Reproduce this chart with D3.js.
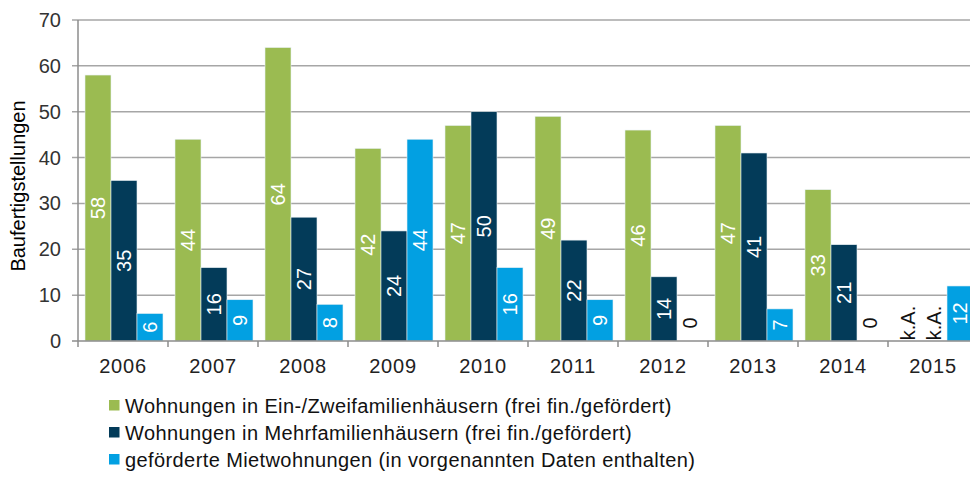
<html>
<head>
<meta charset="utf-8">
<script src="https://d3js.org/d3.v7.min.js"></script>
<style>
body {margin:0; background:#fff;}
text {font-family: "Liberation Sans", Arial, sans-serif;}
</style>
</head>
<body>
<svg id="chart" width="970" height="477"></svg>
<script>
// data
var years = ["2006","2007","2008","2009","2010","2011","2012","2013","2014","2015"];
var ein  = [58, 44, 64, 42, 47, 49, 46, 47, 33, null];
var mehr = [35, 16, 27, 24, 50, 22, 14, 41, 21, null];
var miet = [6, 9, 8, 44, 16, 9, 0, 7, 0, 12];
var yTicks = [0,10,20,30,40,50,60,70];
var seriesNames = [
  "Wohnungen in Ein-/Zweifamilienhäusern (frei fin./gefördert)",
  "Wohnungen in Mehrfamilienhäusern (frei fin./gefördert)",
  "geförderte Mietwohnungen (in vorgenannten Daten enthalten)"
];
var colors = ["#9bbb51", "#033b59", "#02a0e2"];

var series = [ein, mehr, miet];
var rows = [];
years.forEach(function(y, i){
  series.forEach(function(s, k){
    rows.push({year: y, key: k, value: s[i]});
  });
});

var svg = d3.select("#chart");

var x = d3.scaleBand().domain(years).range([78, 978]);
var xs = d3.scaleBand().domain([0,1,2]).range([7, 85]);
var y = d3.scaleLinear().domain([0,70]).range([341, 20]);

// grid lines
svg.append("g").selectAll("line")
  .data(yTicks.slice(1))
  .enter().append("line")
  .attr("x1", 72).attr("x2", 970)
  .attr("y1", d => y(d)).attr("y2", d => y(d))
  .attr("stroke", "#a6a6a6").attr("stroke-width", 1.5);

// y tick labels
svg.append("g").selectAll("text")
  .data(yTicks)
  .enter().append("text")
  .attr("x", 61).attr("y", d => y(d) + 7)
  .attr("text-anchor", "end")
  .attr("font-size", 20)
  .attr("fill", "#333")
  .text(d => d);

// y title
svg.append("text")
  .attr("transform", "translate(25,186) rotate(-90)")
  .attr("text-anchor", "middle")
  .attr("font-size", 20)
  .attr("fill", "#000")
  .text("Baufertigstellungen");

// bars
svg.append("g").selectAll("rect")
  .data(rows.filter(d => d.value))
  .enter().append("rect")
  .attr("x", d => x(d.year) + xs(d.key))
  .attr("width", xs.bandwidth())
  .attr("y", d => y(d.value))
  .attr("height", d => y(0) - y(d.value))
  .attr("fill", d => colors[d.key])
  .attr("stroke", "#e8f0f4").attr("stroke-width", 0.6);

// value labels
svg.append("g").selectAll("text")
  .data(rows)
  .enter().append("text")
  .attr("transform", function(d){
    var cx = x(d.year) + xs(d.key) + xs.bandwidth()/2;
    var cy = d.value ? (y(d.value) + y(0))/2 : 323;
    return "translate(" + (cx + 7) + "," + cy + ") rotate(-90)";
  })
  .attr("text-anchor", "middle")
  .attr("font-size", 20)
  .attr("fill", d => d.value ? "#fff" : "#111")
  .text(d => d.value === null ? "k.A." : d.value);

// axes lines
svg.append("line")
  .attr("x1", 78).attr("x2", 78).attr("y1", 20).attr("y2", 341)
  .attr("stroke", "#8c8c8c").attr("stroke-width", 1.5);
svg.append("line")
  .attr("x1", 72).attr("x2", 970).attr("y1", 341).attr("y2", 341)
  .attr("stroke", "#8c8c8c").attr("stroke-width", 1.5);
svg.append("g").selectAll("line")
  .data(years)
  .enter().append("line")
  .attr("x1", d => x(d)).attr("x2", d => x(d))
  .attr("y1", 341).attr("y2", 347)
  .attr("stroke", "#8c8c8c").attr("stroke-width", 1.5);

// x labels
svg.append("g").selectAll("text")
  .data(years)
  .enter().append("text")
  .attr("x", d => x(d) + x.bandwidth()/2)
  .attr("y", 373)
  .attr("text-anchor", "middle")
  .attr("font-size", 20)
  .attr("letter-spacing", 0.8)
  .attr("fill", "#222")
  .text(d => d);

// legend
var leg = svg.append("g").selectAll("g")
  .data(seriesNames)
  .enter().append("g")
  .attr("transform", (d, i) => "translate(109," + (405.5 + i * 27) + ")");
leg.append("rect")
  .attr("x", 0).attr("y", -5.5).attr("width", 10.5).attr("height", 10.5)
  .attr("fill", (d, i) => colors[i]);
leg.append("text")
  .attr("x", 16).attr("y", 7)
  .attr("font-size", 20)
  .attr("letter-spacing", 0.4)
  .attr("fill", "#111")
  .text(d => d);
</script>
</body>
</html>
